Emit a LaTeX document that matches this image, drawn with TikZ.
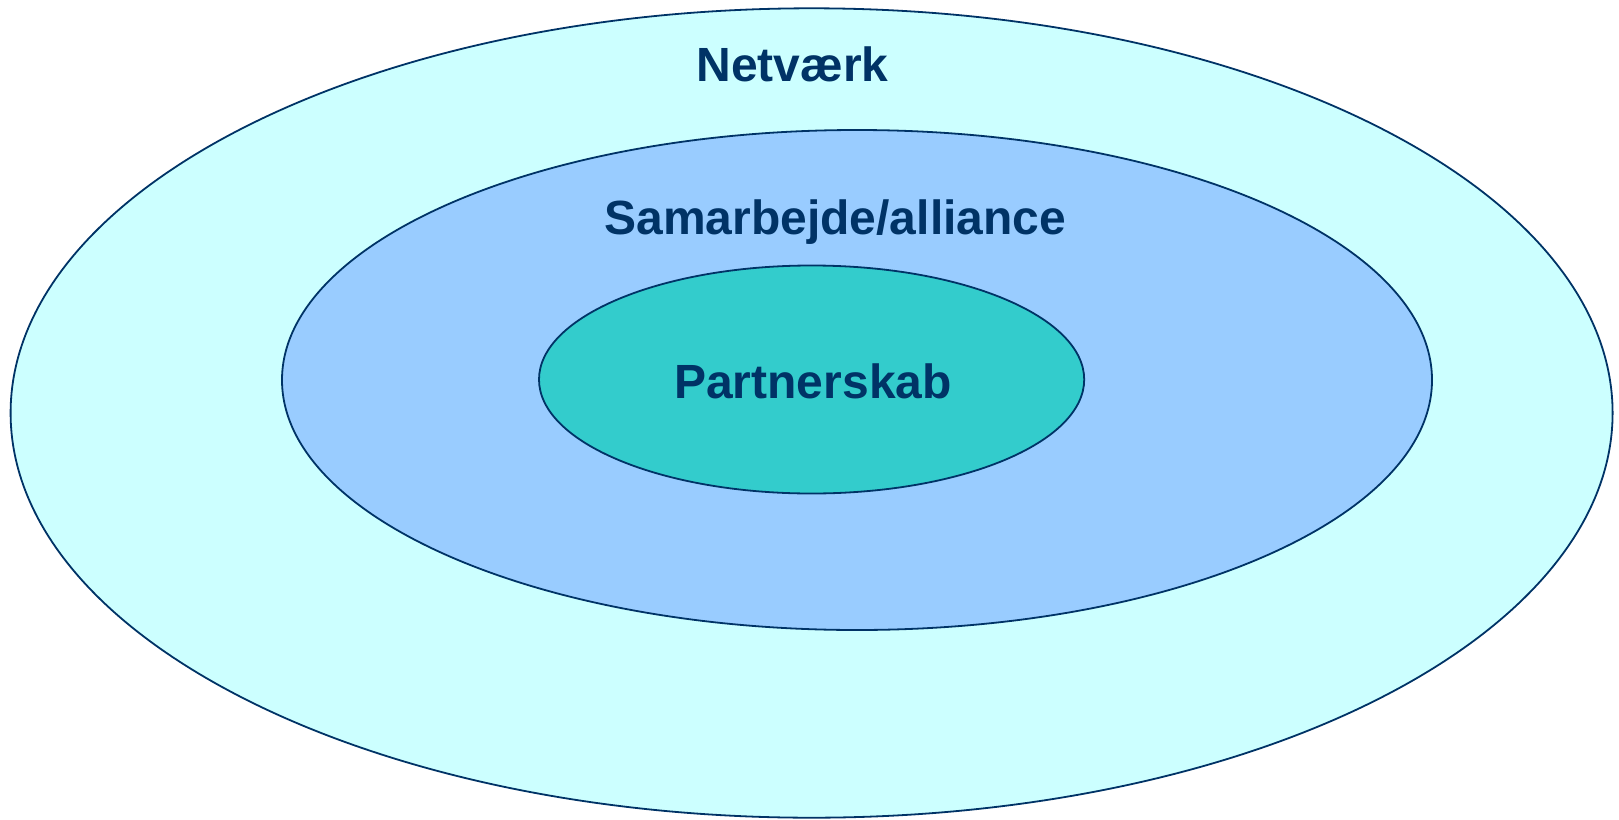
\documentclass[tikz,border=0pt]{standalone}
\usepackage{fontspec}
\setmainfont{Liberation Sans}
\usetikzlibrary{shapes.geometric}
\definecolor{navy}{HTML}{003366}
\definecolor{outerfill}{HTML}{CCFFFF}
\definecolor{midfill}{HTML}{99CCFF}
\definecolor{innerfill}{HTML}{33CCCC}
\tikzset{
  ring/.style={ellipse, draw=navy, line width=1.8pt, inner sep=0pt},
  lbl/.style={anchor=base, text=navy, inner sep=0pt, font=\fontsize{48}{50}\selectfont\bfseries}
}
\begin{document}
\begin{tikzpicture}[x=1pt,y=-1pt]
\useasboundingbox (0,0) rectangle (1619,819);
\node[ring, fill=outerfill, minimum width=1602pt, minimum height=809.4pt] (outer) at (811.6,413) {};
\node[ring, fill=midfill, minimum width=1150pt, minimum height=500pt] (middle) at (857,380) {};
\node[ring, fill=innerfill, minimum width=545.2pt, minimum height=228pt] (inner) at (811.6,379.5) {};
\node[lbl] (netvaerk) at (792.5,81) {Netværk};
\node[lbl] (samarbejde) at (835.3,234.5) {Samarbejde/alliance};
\node[lbl] (partnerskab) at (813,398.3) {Partnerskab};
\end{tikzpicture}
\end{document}
